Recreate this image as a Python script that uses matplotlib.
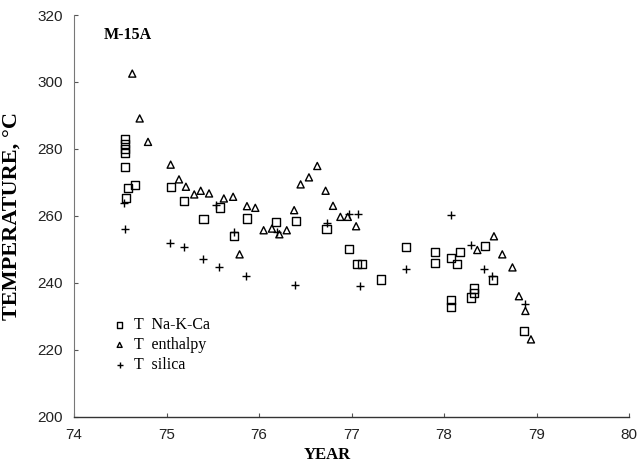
import matplotlib
matplotlib.use("Agg")
import matplotlib.pyplot as plt

# Na-K-Ca geothermometer
nakca_year = [74.55, 74.55, 74.55, 74.55, 74.55, 74.58, 74.66, 74.56,
              75.045, 75.19, 75.40, 75.58, 75.87, 75.73, 76.18, 76.40, 76.73,
              76.97, 77.06, 77.11, 77.32, 77.59, 77.90, 77.90, 78.17, 78.08,
              78.14, 78.44, 78.53, 78.08, 78.08, 78.32, 78.32, 78.29, 78.86]
nakca_temp = [282.9, 281.4, 279.9, 278.7, 274.5, 268.2, 269.2, 265.2,
              268.7, 264.5, 259.0, 262.5, 259.2, 253.9, 258.2, 258.4, 256.0,
              250.0, 245.5, 245.5, 241.0, 250.6, 249.3, 246.0, 249.3, 247.3,
              245.6, 251.0, 240.8, 234.8, 232.8, 238.3, 237.0, 235.6, 225.7]

# Enthalpy
enth_year = [74.63, 74.71, 74.80, 75.045, 75.135, 75.21, 75.30, 75.37, 75.46,
             75.62, 75.72, 75.79, 75.87, 75.96, 76.05, 76.14, 76.22, 76.30,
             76.38, 76.45, 76.54, 76.63, 76.72, 76.80, 76.88, 76.96, 77.05,
             78.36, 78.54, 78.63, 78.74, 78.81, 78.88, 78.94]
enth_temp = [302.5, 289.1, 282.1, 275.3, 270.9, 268.7, 266.4, 267.5, 266.7,
             265.2, 265.7, 248.5, 262.9, 262.4, 255.7, 256.2, 254.5, 255.7,
             261.7, 269.4, 271.5, 274.9, 267.5, 263.0, 259.7, 259.7, 256.9,
             249.8, 253.9, 248.5, 244.6, 236.0, 231.6, 223.1]

# Silica
sil_year = [74.54, 74.55, 75.04, 75.19, 75.39, 75.57, 75.86, 75.54, 75.73,
            76.19, 76.39, 76.73, 76.97, 77.07, 77.09, 77.59, 78.08, 78.29,
            78.43, 78.52, 78.88]
sil_temp = [263.7, 256.2, 251.8, 250.6, 247.0, 244.8, 242.1, 263.2, 255.2,
            255.2, 239.3, 257.9, 260.7, 260.7, 239.0, 244.0, 260.4, 251.3,
            244.0, 242.0, 233.6]

xticks = [74, 75, 76, 77, 78, 79, 80]
yticks = [200, 220, 240, 260, 280, 300, 320]

serif = ["Liberation Serif", "DejaVu Serif"]
sans = ["Liberation Sans", "DejaVu Sans"]

fig = plt.figure(figsize=(6.39, 4.66), dpi=100)
ax = fig.add_axes([74/639, 49.3/466, 555/639, 401.7/466])

ax.scatter(nakca_year, nakca_temp, marker="s", s=34, facecolors="none",
           edgecolors="black", linewidths=1.0, label="T  Na-K-Ca", zorder=3)
ax.scatter(enth_year, enth_temp, marker="^", s=26, facecolors="none",
           edgecolors="black", linewidths=1.0, label="T  enthalpy", zorder=3)
ax.scatter(sil_year, sil_temp, marker="+", s=36, color="black",
           linewidths=1.0, label="T  silica", zorder=3)

ax.set_xlim(74, 80)
ax.set_ylim(200, 320)
ax.set_xticks(xticks)
ax.set_yticks(yticks)
for lab in ax.get_xticklabels() + ax.get_yticklabels():
    lab.set_family(sans)
    lab.set_fontsize(11)
    lab.set_color("#222222")
ax.tick_params(direction="in", length=3, width=0.8, color="#555555")
ax.tick_params(axis="x", pad=8)
ax.tick_params(axis="y", pad=8)

ax.spines["top"].set_visible(False)
ax.spines["right"].set_visible(False)
ax.spines["left"].set_color("#777777")
ax.spines["bottom"].set_color("#333333")
ax.spines["left"].set_linewidth(0.8)
ax.spines["bottom"].set_linewidth(1.0)

ax.set_xlabel("YEAR", family=serif, fontweight="bold", fontsize=12)
ax.xaxis.set_label_coords(0.456, -0.0754)
ax.set_ylabel("TEMPERATURE, \u00b0C", family=serif, fontweight="bold", fontsize=16)
ax.yaxis.set_label_coords(-0.094, 0.5)

ax.text(0.054, 0.951, "M-15A", transform=ax.transAxes, family=serif,
        fontweight="bold", fontsize=11.5, va="center", ha="left")

leg = ax.legend(loc="upper left", bbox_to_anchor=(0.065, 0.248), frameon=False,
                prop={"family": serif, "size": 11.5}, handletextpad=0.3,
                labelspacing=0.25, borderaxespad=0, borderpad=0,
                handlelength=1.2, markerscale=0.7)

fig.savefig("out.png", dpi=100)
